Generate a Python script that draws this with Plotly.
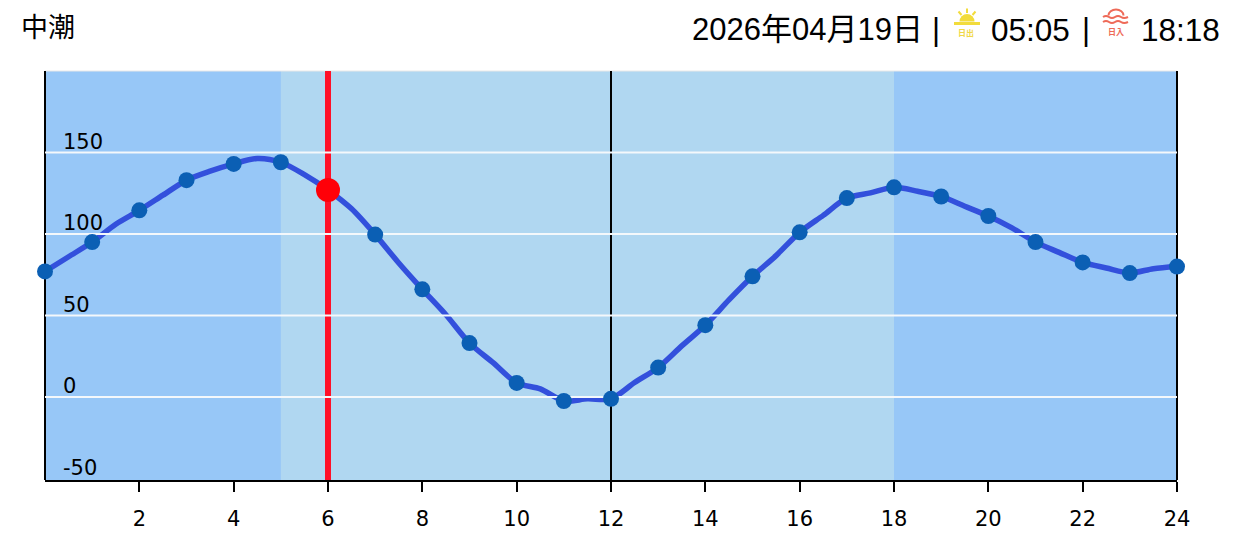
import base64
import plotly.graph_objects as go

W, H = 1238, 539
L, R, T, B = 45, 61, 71, 59

hours = list(range(25))
tide = [77, 95, 114.5, 133, 143, 144, 127, 99.6, 66, 33, 8.6, -2.5, -1.2, 18, 44, 74, 101, 122, 128.6, 123, 111, 95, 82.5, 76, 80]
half_hours = [0.5, 1.5, 2.5, 3.5, 4.5, 5.5, 6.5, 7.5, 8.5, 9.5, 10.5, 11.5, 12.5, 13.5, 14.5, 15.5, 16.5, 17.5, 18.5, 19.5, 20.5, 21.5, 22.5, 23.5]
half_tide = [86, 106, 123.8, 138.5, 146.3, 136.4, 115.4, 82.2, 50.4, 21, 4.9, -1.2, 8.8, 31.3, 59.5, 86.7, 111.4, 125.2, 126.2, 117, 103.7, 88.7, 79.1, 78.7]
grid_vals = [0, 50, 100, 150]
y_ticks = [-50, 0, 50, 100, 150]
y_labels = ["-50", "0", "50", "100", "150"]
x_ticks = list(range(2, 25, 2))
sunrise_hour, sunset_hour = 5, 18
now_hour, now_val = 6, 127
noon = 12
y_range = [-51, 200]
title_left = "中潮"
date_txt = "2026年04月19日"
rise_txt = "05:05"
set_txt = "18:18"

line_pts = sorted(list(zip(hours, tide)) + list(zip(half_hours, half_tide)))
line_x = [p[0] for p in line_pts]
line_y = [p[1] for p in line_pts]

PW, PH = W - L - R, H - T - B
px = lambda v: (v - L) / PW
py = lambda v: (H - B - v) / PH

fig = go.Figure()
fig.add_trace(go.Scatter(x=[noon, noon], y=y_range, mode="lines", line=dict(color="#000", width=2)))
fig.add_trace(go.Scatter(x=[now_hour, now_hour], y=y_range, mode="lines", line=dict(color="#ff1028", width=6)))
fig.add_trace(go.Scatter(x=line_x, y=line_y, mode="lines", line=dict(color="#3350dc", width=5.5, shape="spline", smoothing=0.8)))
for v in grid_vals:
    fig.add_trace(go.Scatter(x=[0, 24], y=[v, v], mode="lines", line=dict(color="#f4f8fb", width=2)))
fig.add_trace(go.Scatter(x=hours, y=tide, mode="markers", cliponaxis=False, marker=dict(color="#0b5fb4", size=16)))
fig.add_trace(go.Scatter(x=[now_hour], y=[now_val], mode="markers", marker=dict(color="#ff0008", size=24)))

shapes = [
    dict(type="rect", xref="x", yref="paper", x0=sunrise_hour, x1=sunset_hour, y0=0, y1=1,
         fillcolor="#b0d7f1", line_width=0, layer="below"),
    dict(type="line", xref="paper", yref="paper", x0=0, x1=1, y0=1, y1=1, line=dict(color="#e8e8e8", width=1), layer="below"),
    dict(type="line", xref="paper", yref="paper", x0=0, x1=0, y0=0, y1=1, line=dict(color="#000", width=2), layer="below"),
    dict(type="line", xref="paper", yref="paper", x0=1, x1=1, y0=0, y1=1, line=dict(color="#000", width=2), layer="below"),
]

sun_svg = ('<svg xmlns="http://www.w3.org/2000/svg" width="60" height="40" viewBox="0 0 60 40">'
           '<path d="M9.5 13.5 A7.5 7.5 0 0 1 24.5 13.5 Z" fill="#f2dc3c"/>'
           '<rect x="4" y="14" width="26" height="3" fill="#f2dc3c"/>'
           '<path d="M17 0.5V5M8.5 3.5L11.5 7M25.5 3.5L22.5 7" stroke="#f2dc3c" stroke-width="2" fill="none"/></svg>')
set_svg = ('<svg xmlns="http://www.w3.org/2000/svg" width="40" height="40" viewBox="0 0 40 40">'
           '<path d="M13.5 7.5 A7.5 6 0 0 1 28.5 7.5" stroke="#ee6a58" stroke-width="2" fill="none"/>'
           '<path d="M8 9 Q11 7 14 9 T20 9 T26 9 T33 9 M8 14 Q11 12 14 14 T20 14 T26 14 T33 14" stroke="#ee6a58" stroke-width="2" fill="none"/></svg>')
uri = lambda s: "data:image/svg+xml;base64," + base64.b64encode(s.encode()).decode()
images = [
    dict(source=uri(sun_svg), xref="paper", yref="paper", x=px(950), y=py(8), sizex=60 / PW, sizey=40 / PH,
         xanchor="left", yanchor="top", sizing="stretch", layer="above"),
    dict(source=uri(set_svg), xref="paper", yref="paper", x=px(1095), y=py(8), sizex=40 / PW, sizey=40 / PH,
         xanchor="left", yanchor="top", sizing="stretch", layer="above"),
]

HFONT = "Liberation Sans, Noto Sans CJK JP, sans-serif"
def note(text, x, y, size, anchor="left", color="#000"):
    return dict(text=text, xref="paper", yref="paper", x=px(x), y=py(y), xanchor=anchor, yanchor="middle",
                showarrow=False, borderpad=0, font=dict(family=HFONT, size=size, color=color))

annotations = [
    note(title_left, 20, 28, 27),
    note(date_txt, 691, 30, 31),
    note("|", 936, 30, 31, "center"),
    note(rise_txt, 990, 30, 31.5),
    note("|", 1086, 30, 31, "center"),
    note(set_txt, 1140, 30, 31.5),
    note("<b>日出</b>", 966, 33, 8, "center", "#f0d848"),
    note("<b>日入</b>", 1116, 33, 8, "center", "#ee6a58"),
]

fig.update_layout(
    width=W, height=H, margin=dict(l=L, r=R, t=T, b=B, pad=0), showlegend=False,
    paper_bgcolor="#fff", plot_bgcolor="#97c7f7", shapes=shapes, images=images, annotations=annotations,
    font=dict(family="DejaVu Sans", size=20, color="#000"),
    xaxis=dict(range=[0, 24], tickvals=x_ticks, ticks="outside", ticklen=10, tickwidth=2, tickcolor="#000",
               automargin=False, ticklabelstandoff=9, showgrid=False, zeroline=False, showline=True,
               linecolor="#000", linewidth=2, tickfont=dict(size=21, color="#000")),
    yaxis=dict(range=y_range, tickvals=y_ticks, ticktext=y_labels, ticklabelposition="inside", ticks="",
               automargin=False, ticklabelstandoff=15, ticklabelshift=-11, showgrid=False, zeroline=False,
               showline=False, tickfont=dict(size=21, color="#000")),
)
fig.write_html("out.html", post_script="document.body.style.margin='0';", config=dict(displayModeBar=False))
